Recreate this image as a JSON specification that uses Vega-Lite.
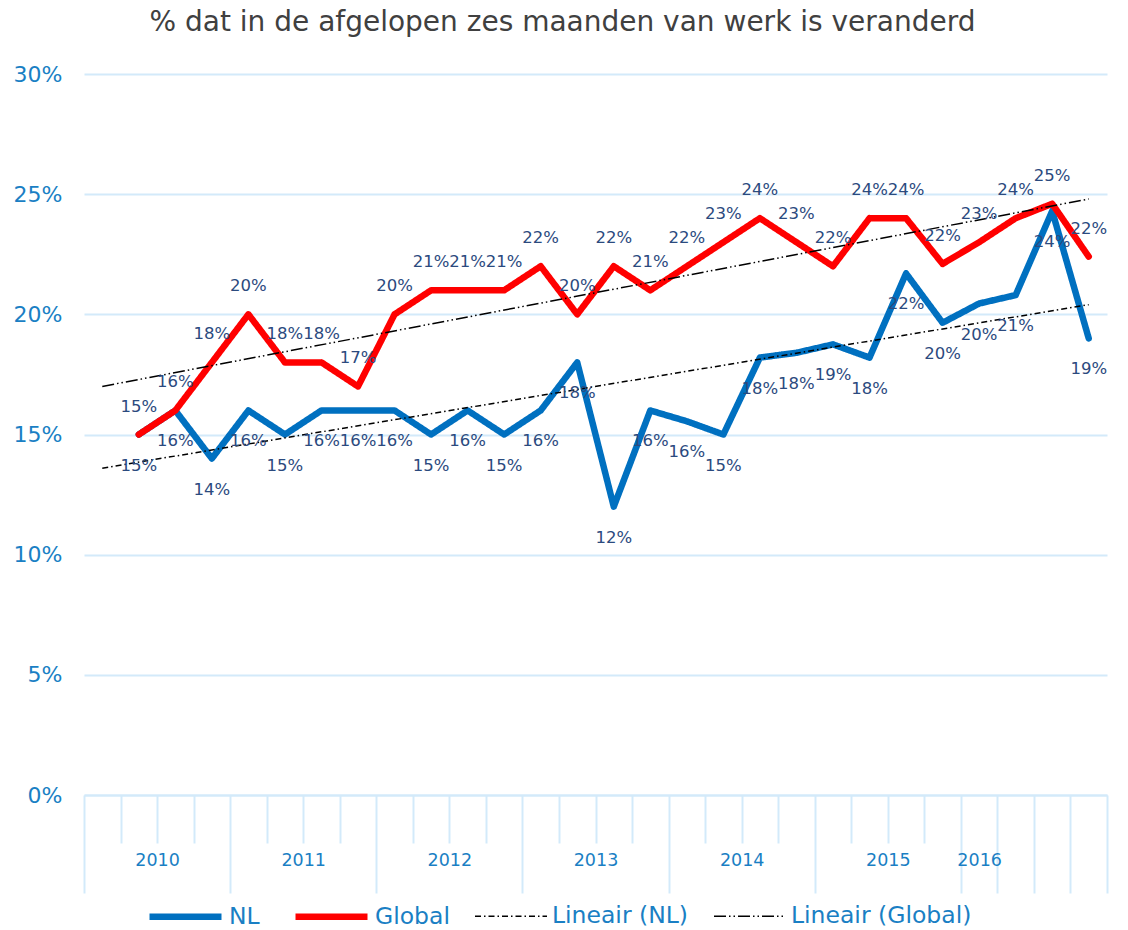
{
  "$schema": "https://vega.github.io/schema/vega-lite/v6.json",
  "width": 1023,
  "height": 721,
  "autosize": "none",
  "padding": {"left": 84, "top": 74, "right": 21, "bottom": 135},
  "background": "white",
  "title": {
    "text": "% dat in de afgelopen zes maanden van werk is veranderd",
    "font": "DejaVu Sans",
    "fontSize": 28,
    "fontWeight": "normal",
    "color": "#404040",
    "anchor": "middle",
    "dx": -33,
    "offset": 26
  },
  "config": {
    "font": "DejaVu Sans",
    "view": {"stroke": null}
  },
  "datasets": {
    "main": [
      {"idx": 1, "series": "NL", "value": 0.150},
      {"idx": 2, "series": "NL", "value": 0.160},
      {"idx": 3, "series": "NL", "value": 0.140},
      {"idx": 4, "series": "NL", "value": 0.160},
      {"idx": 5, "series": "NL", "value": 0.150},
      {"idx": 6, "series": "NL", "value": 0.160},
      {"idx": 7, "series": "NL", "value": 0.160},
      {"idx": 8, "series": "NL", "value": 0.160},
      {"idx": 9, "series": "NL", "value": 0.150},
      {"idx": 10, "series": "NL", "value": 0.160},
      {"idx": 11, "series": "NL", "value": 0.150},
      {"idx": 12, "series": "NL", "value": 0.160},
      {"idx": 13, "series": "NL", "value": 0.180},
      {"idx": 14, "series": "NL", "value": 0.120},
      {"idx": 15, "series": "NL", "value": 0.160},
      {"idx": 16, "series": "NL", "value": 0.1555},
      {"idx": 17, "series": "NL", "value": 0.150},
      {"idx": 18, "series": "NL", "value": 0.182},
      {"idx": 19, "series": "NL", "value": 0.184},
      {"idx": 20, "series": "NL", "value": 0.1875},
      {"idx": 21, "series": "NL", "value": 0.182},
      {"idx": 22, "series": "NL", "value": 0.217},
      {"idx": 23, "series": "NL", "value": 0.1965},
      {"idx": 24, "series": "NL", "value": 0.2045},
      {"idx": 25, "series": "NL", "value": 0.208},
      {"idx": 26, "series": "NL", "value": 0.243},
      {"idx": 27, "series": "NL", "value": 0.190},
      {"idx": 1, "series": "Global", "value": 0.150},
      {"idx": 2, "series": "Global", "value": 0.160},
      {"idx": 3, "series": "Global", "value": 0.180},
      {"idx": 4, "series": "Global", "value": 0.200},
      {"idx": 5, "series": "Global", "value": 0.180},
      {"idx": 6, "series": "Global", "value": 0.180},
      {"idx": 7, "series": "Global", "value": 0.170},
      {"idx": 8, "series": "Global", "value": 0.200},
      {"idx": 9, "series": "Global", "value": 0.210},
      {"idx": 10, "series": "Global", "value": 0.210},
      {"idx": 11, "series": "Global", "value": 0.210},
      {"idx": 12, "series": "Global", "value": 0.220},
      {"idx": 13, "series": "Global", "value": 0.200},
      {"idx": 14, "series": "Global", "value": 0.220},
      {"idx": 15, "series": "Global", "value": 0.210},
      {"idx": 16, "series": "Global", "value": 0.220},
      {"idx": 17, "series": "Global", "value": 0.230},
      {"idx": 18, "series": "Global", "value": 0.240},
      {"idx": 19, "series": "Global", "value": 0.230},
      {"idx": 20, "series": "Global", "value": 0.220},
      {"idx": 21, "series": "Global", "value": 0.240},
      {"idx": 22, "series": "Global", "value": 0.240},
      {"idx": 23, "series": "Global", "value": 0.221},
      {"idx": 24, "series": "Global", "value": 0.230},
      {"idx": 25, "series": "Global", "value": 0.240},
      {"idx": 26, "series": "Global", "value": 0.246},
      {"idx": 27, "series": "Global", "value": 0.224}
    ],
    "trend": [
      {"idx": 0, "series": "Lineair (NL)", "value": 0.136},
      {"idx": 27, "series": "Lineair (NL)", "value": 0.204},
      {"idx": 0, "series": "Lineair (Global)", "value": 0.170},
      {"idx": 27, "series": "Lineair (Global)", "value": 0.248}
    ]
  },
  "encoding": {
    "x": {
      "field": "idx",
      "type": "quantitative",
      "scale": {"domain": [-0.5, 27.5], "nice": false, "zero": false},
      "axis": {
        "title": null,
        "grid": false,
        "values": [-0.5, 0.5, 1.5, 2.5, 3.5, 4.5, 5.5, 6.5, 7.5, 8.5, 9.5, 10.5, 11.5, 12.5, 13.5, 14.5, 15.5, 16.5, 17.5, 18.5, 19.5, 20.5, 21.5, 22.5, 23.5, 24, 24.5, 25.5, 26.5, 27.5],
        "labelExpr": "datum.value == 1.5 ? '2010' : datum.value == 5.5 ? '2011' : datum.value == 9.5 ? '2012' : datum.value == 13.5 ? '2013' : datum.value == 17.5 ? '2014' : datum.value == 21.5 ? '2015' : datum.value == 24 ? '2016' : ''",
        "labelFontSize": 17.5,
        "labelColor": "#1a7fc4",
        "labelPadding": 8,
        "labelFlush": false,
        "labelOverlap": false,
        "domainColor": "#d3eafa",
        "domainWidth": 2,
        "tickColor": "#d3eafa",
        "tickWidth": 2,
        "tickSize": {"condition": {"test": "indexof([-0.5, 3.5, 7.5, 11.5, 15.5, 19.5, 23.5, 24.5, 25.5, 26.5, 27.5], datum.value) >= 0", "value": 98}, "value": 48},
        "tickOpacity": {"condition": {"test": "datum.value == 24", "value": 0}, "value": 1}
      }
    },
    "y": {
      "field": "value",
      "type": "quantitative",
      "scale": {"domain": [0, 0.3], "nice": false},
      "axis": {
        "title": null,
        "values": [0, 0.05, 0.1, 0.15, 0.2, 0.25, 0.3],
        "format": ".0%",
        "domain": false,
        "ticks": false,
        "gridColor": "#d3eafa",
        "gridWidth": 2,
        "labelFontSize": 22,
        "labelColor": "#1a7fc4",
        "labelPadding": 22
      }
    }
  },
  "layer": [
    {
      "layer": [
        {
          "data": {"name": "main"},
          "transform": [{"filter": "datum.series == 'NL'"}],
          "mark": {"type": "line", "strokeJoin": "round", "strokeCap": "round"}
        },
        {
          "data": {"name": "main"},
          "transform": [{"filter": "datum.series == 'Global'"}],
          "mark": {"type": "line", "strokeJoin": "round", "strokeCap": "round"}
        },
        {
          "data": {"name": "trend"},
          "mark": {"type": "line"}
        }
      ],
      "encoding": {
        "detail": {"field": "series"},
        "color": {
          "field": "series",
          "type": "nominal",
          "scale": {"domain": ["NL", "Global", "Lineair (NL)", "Lineair (Global)"], "range": ["#0070C0", "#FF0000", "#000000", "#000000"]},
          "legend": {
            "title": null,
            "orient": "none",
            "direction": "horizontal",
            "legendX": 62,
            "legendY": 803,
            "symbolType": "stroke",
            "symbolSize": 5184,
            "labelFontSize": 23.5,
            "labelColor": "#1a7fc4",
            "labelOffset": 4,
            "labelLimit": 400,
            "columnPadding": 22
          }
        },
        "strokeDash": {
          "field": "series",
          "type": "nominal",
          "scale": {"type": "ordinal", "domain": ["NL", "Global", "Lineair (NL)", "Lineair (Global)"], "range": [[1, 0], [1, 0], [6, 3, 1.5, 3], [12, 3, 1.5, 3, 1.5, 3]]}
        },
        "strokeWidth": {
          "field": "series",
          "type": "nominal",
          "scale": {"type": "ordinal", "domain": ["NL", "Global", "Lineair (NL)", "Lineair (Global)"], "range": [6.5, 6.5, 1.5, 1.5]}
        }
      }
    },
    {
      "data": {"name": "main"},
      "transform": [{"filter": "datum.series == 'NL'"}],
      "mark": {"type": "text", "dy": 31, "fontSize": 16.5, "color": "#2b4a7e"},
      "encoding": {
        "text": {"field": "value", "type": "quantitative", "format": ".0%"}
      }
    },
    {
      "data": {"name": "main"},
      "transform": [{"filter": "datum.series == 'Global'"}],
      "mark": {"type": "text", "dy": -28, "fontSize": 16.5, "color": "#2b4a7e"},
      "encoding": {
        "text": {"field": "value", "type": "quantitative", "format": ".0%"}
      }
    }
  ]
}
